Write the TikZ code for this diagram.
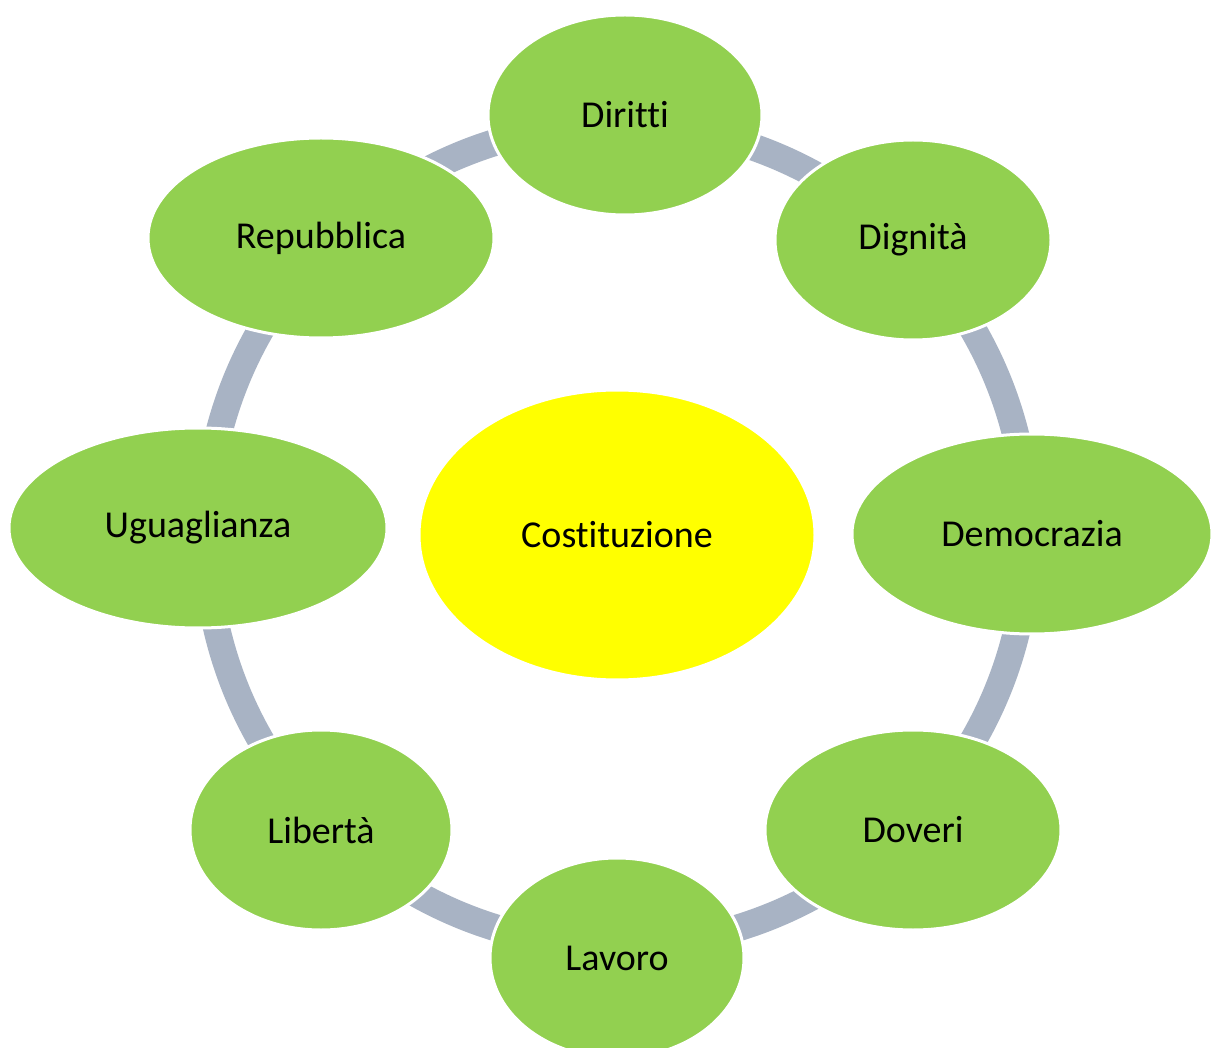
\documentclass[tikz,border=0pt]{standalone}
\usepackage{fontspec}
\setmainfont[Ligatures={NoCommon}]{Carlito}
\usetikzlibrary{shapes.geometric}
\definecolor{ringgray}{RGB}{168,179,196}
\definecolor{leafgreen}{RGB}{146,208,80}
\definecolor{coreyellow}{RGB}{255,255,0}
\tikzset{
  leaf/.style={ellipse, fill=leafgreen, draw=white, line width=3pt, inner sep=0pt,
    minimum height=200pt, font=\fontsize{38}{46}\selectfont, text=black},
  core/.style={ellipse, fill=coreyellow, draw=white, line width=3pt, inner sep=0pt,
    minimum width=396pt, minimum height=290pt, font=\fontsize{38}{46}\selectfont, text=black},
  ring/.style={draw=ringgray, line width=27pt}
}
\begin{document}
\begin{tikzpicture}[x=1pt,y=-1pt]
\useasboundingbox (0,0) rectangle (1211,1048);
\fill[white] (0,0) rectangle (1211,1048);
\coordinate (ctr) at (617,535);
\draw[ring] (ctr) circle (411pt);
\node[core] (costituzione) at (617,535) {Costituzione};
\node[leaf, minimum width=274pt] (diritti) at (625,115) {Diritti};
\node[leaf, minimum width=276pt] (dignita) at (913,240) {Dignità};
\node[leaf, minimum width=360pt] (democrazia) at (1032,534) {Democrazia};
\node[leaf, minimum width=296pt] (doveri) at (913,830) {Doveri};
\node[leaf, minimum width=254pt] (lavoro) at (617,958) {Lavoro};
\node[leaf, minimum width=262pt] (liberta) at (321,830) {Libertà};
\node[leaf, minimum width=378pt] (uguaglianza) at (198,528) {Uguaglianza};
\node[leaf, minimum width=346pt] (repubblica) at (321,238) {Repubblica};
\end{tikzpicture}
\end{document}
